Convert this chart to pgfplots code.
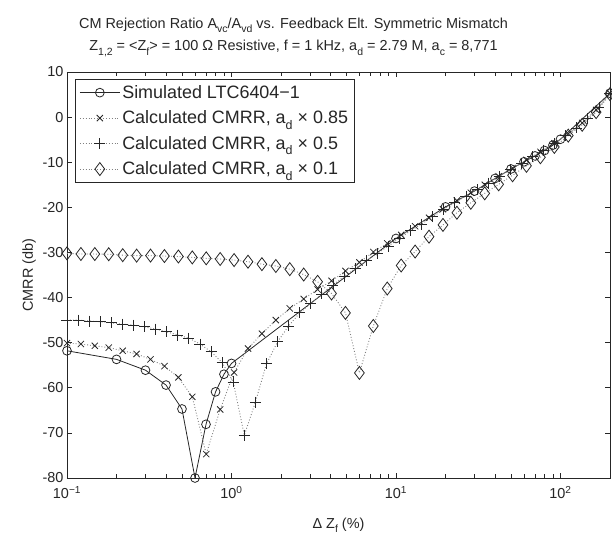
\documentclass[border=0pt]{standalone}
\usepackage{fontspec}
\setmainfont{Liberation Sans}
\usepackage{graphicx}
\usepackage{pgfplots}
\usepackage{pgfplotstable}
\pgfplotsset{compat=1.18}
\newcommand{\sbs}[1]{\raisebox{-0.55ex}{\fontsize{10.5}{10.5}\selectfont #1}}
\newcommand{\lsbs}[1]{\raisebox{-0.55ex}{\fontsize{12.5}{12.5}\selectfont #1}}

\pgfplotstableread{
x y
0.1 -51.8
0.2 -53.7
0.3 -56.1
0.4 -59.4
0.5 -64.7
0.6 -80.0
0.7 -68.1
0.8 -60.9
0.9 -57.0
1.0 -54.6
10 -26.9
20 -19.9
30 -16.4
40 -13.6
50 -11.5
60 -9.9
70 -8.6
80 -7.4
90 -6.2
100 -4.9
200 5.3
}\simdata

\pgfplotstableread{
x y
0.1 -50.1
0.1215 -50.3
0.1476 -50.7
0.1794 -51.1
0.2181 -51.8
0.2650 -52.5
0.3220 -53.7
0.3913 -55.2
0.4755 -57.7
0.5778 -62.0
0.7022 -74.7
0.8533 -64.8
1.037 -56.6
1.260 -51.3
1.531 -48.0
1.861 -45.0
2.261 -42.4
2.748 -40.3
3.339 -38.2
4.058 -36.3
4.931 -34.1
5.993 -32.2
7.282 -29.9
8.850 -28.0
10.75 -26.1
13.07 -24.2
15.88 -22.3
19.30 -20.4
23.45 -18.5
28.50 -16.75
34.63 -15.0
42.08 -13.1
51.14 -11.3
62.14 -9.5
75.52 -7.7
91.77 -5.8
111.5 -3.7
135.5 -1.3
164.7 1.6
200 5.3
}\xdata

\pgfplotstableread{
x y
0.1 -45.0
0.1168 -45.0
0.1364 -45.2
0.1593 -45.35
0.1860 -45.6
0.2172 -45.9
0.2536 -46.1
0.2962 -46.5
0.3459 -47.0
0.4040 -47.6
0.4717 -48.3
0.5509 -49.0
0.6434 -50.3
0.7513 -52.0
0.8773 -54.4
1.0245 -58.7
1.1965 -70.5
1.3973 -63.2
1.6318 -54.7
1.9055 -49.8
2.2252 -46.3
2.5986 -43.4
3.0346 -41.3
3.5438 -39.2
4.1384 -37.2
4.8328 -35.3
5.6438 -33.6
6.5907 -31.85
7.6965 -30.2
8.9879 -28.6
10.496 -26.85
12.257 -25.2
14.314 -23.7
16.716 -22.1
19.521 -20.45
22.796 -18.95
26.621 -17.5
31.088 -16.1
36.305 -14.65
42.397 -13.15
49.511 -11.7
57.818 -10.2
67.519 -8.8
78.848 -7.3
92.078 -5.8
107.53 -4.1
125.57 -2.4
146.64 -0.3
171.25 2.2
200 5.3
}\pdata

\pgfplotstableread{
x y
0.1 -30.2
0.1215 -30.35
0.1476 -30.35
0.1794 -30.4
0.2181 -30.6
0.2650 -30.7
0.3220 -30.7
0.3913 -30.8
0.4755 -30.9
0.5778 -31.1
0.7022 -31.3
0.8533 -31.45
1.037 -31.7
1.260 -32.05
1.531 -32.6
1.861 -33.0
2.261 -33.7
2.748 -34.9
3.339 -36.5
4.058 -39.1
4.931 -43.4
5.993 -56.7
7.282 -46.3
8.850 -38.0
10.75 -32.9
13.07 -29.8
15.88 -26.5
19.30 -23.9
23.45 -21.2
28.50 -19.0
34.63 -16.9
42.08 -14.9
51.14 -12.9
62.14 -10.8
75.52 -8.9
91.77 -6.6
111.5 -4.1
135.5 -1.7
164.7 1.1
200 5.1
}\ddata

\begin{document}
\begin{tikzpicture}
\useasboundingbox (-67bp,-56bp) rectangle (545bp,478bp);
\begin{axis}[
  at={(0,0)}, anchor=south west,
  scale only axis, width=543bp, height=406bp,
  xmode=log, xmin=0.1, xmax=200, ymin=-80, ymax=10,
  xtick={0.1,1,10,100},
  xticklabels={10\textsuperscript{−1},10\textsuperscript{0},10\textsuperscript{1},10\textsuperscript{2}},
  ytick={-80,-70,-60,-50,-40,-30,-20,-10,0,10},
  yticklabels={-80,-70,-60,-50,-40,-30,-20,-10,0,10},
  tick align=inside,
  major tick length=5bp, minor tick length=3.5bp,
  tick style={black!85, line width=0.6bp},
  axis line style={black!85, line width=0.9bp},
  ticklabel style={font=\fontsize{14.5}{14.5}\selectfont, text=black!85},
  xticklabel style={yshift=-5bp},
  xlabel={Δ Z\sbs{f} (\%)},
  ylabel={CMRR (db)},
  xlabel style={yshift=-12bp},
  label style={font=\fontsize{14.5}{14.5}\selectfont, text=black!85},
  title={CM Rejection Ratio A\sbs{vc}/A\sbs{vd} vs. Feedback Elt. Symmetric Mismatch\\[5bp]Z\sbs{1,2} = <Z\sbs{f}> = 100 Ω Resistive, f = 1 kHz, a\sbs{d} = 2.79 M, a\sbs{c} = 8,771},
  title style={align=center, font=\fontsize{14.5}{17.5}\selectfont, text=black!85, yshift=6bp, xshift=-45bp},
  legend style={at={(axis description cs:0,1)}, anchor=north west, xshift=8bp, yshift=-7bp,
    draw=black!85, line width=0.8bp, fill=white, font=\fontsize{18}{20}\selectfont,
    inner xsep=4bp, inner ysep=4bp, row sep=7bp, text=black!85},
  legend cell align=left,
  legend image code/.code={\draw[mark repeat=2,mark phase=2] plot coordinates {(0bp,0bp) (20bp,0bp) (40bp,0bp)};},
]
\addplot[black!85, line width=0.8bp, mark=o, mark size=4.4bp, mark options={solid, line width=0.8bp}] table {\simdata};
\addlegendentry{Simulated LTC6404−1}
\addplot[black!50, dotted, line width=0.9bp, mark=x, mark size=4.4bp, mark options={solid, black!85, line width=0.8bp}] table {\xdata};
\addlegendentry{Calculated CMRR, a\lsbs{d} × 0.85}
\addplot[black!50, dotted, line width=0.9bp, mark=+, mark size=5.5bp, mark options={solid, black!85, line width=0.8bp}] table {\pdata};
\addlegendentry{Calculated CMRR, a\lsbs{d} × 0.5}
\addplot[black!50, dotted, line width=0.9bp, mark=diamond, mark size=6.5bp, mark options={solid, black!85, line width=0.8bp}] table {\ddata};
\addlegendentry{Calculated CMRR, a\lsbs{d} × 0.1}
\end{axis}
\end{tikzpicture}
\end{document}
